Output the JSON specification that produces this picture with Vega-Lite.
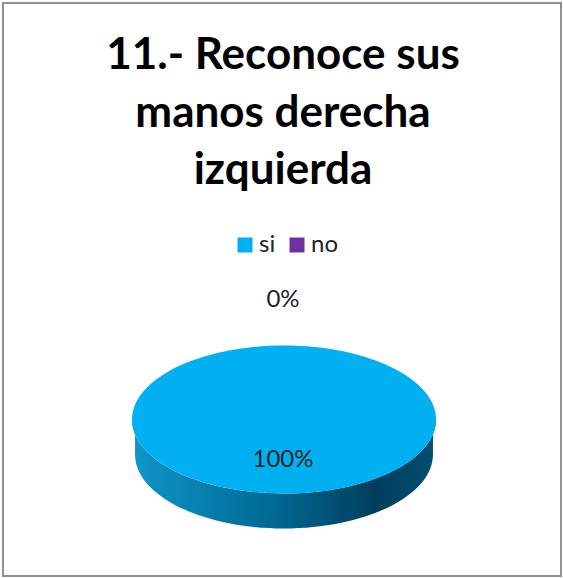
{
  "$schema": "https://vega.github.io/schema/vega-lite/v6.json",
  "width": 558,
  "height": 573,
  "autosize": {"type": "none"},
  "padding": {"left": 3, "top": 3, "right": 2, "bottom": 2},
  "background": "white",
  "view": {"stroke": "#909090", "strokeWidth": 2, "fill": "white"},
  "title": {
    "text": ["11.- Reconoce sus", "manos derecha", "izquierda"],
    "font": "Lato",
    "fontWeight": "bold",
    "fontSize": 44,
    "lineHeight": 57.5,
    "color": "#000000",
    "anchor": "middle",
    "frame": "group",
    "baseline": "top",
    "offset": -190,
    "dx": 1
  },
  "data": {
    "values": [
      {"categoria": "si", "valor": 100, "etiqueta": "100%"},
      {"categoria": "no", "valor": 0, "etiqueta": "0%"}
    ]
  },
  "layer": [
    {
      "mark": {
        "type": "point",
        "filled": true,
        "opacity": 1,
        "strokeWidth": 0,
        "yOffset": 130,
        "xOffset": 2,
        "shape": "M-1,0 A1,0.487 0 0 0 1,0 L0.98,0.08 L0.98,0.23 A0.98,0.487 0 0 1 -0.98,0.23 L-0.98,0.08 Z",
        "fill": {
          "x1": 0, "y1": 0, "x2": 1, "y2": 0,
          "gradient": "linear",
          "stops": [
            {"offset": 0, "color": "#0f97c8"},
            {"offset": 0.45, "color": "#006a96"},
            {"offset": 0.8, "color": "#003f5c"},
            {"offset": 1, "color": "#004f70"}
          ]
        }
      },
      "encoding": {
        "size": {"field": "valor", "type": "quantitative", "scale": {"domain": [0, 100], "range": [0, 92416]}, "legend": null}
      }
    },
    {
      "mark": {
        "type": "point",
        "filled": true,
        "opacity": 1,
        "strokeWidth": 0,
        "yOffset": 130,
        "xOffset": 2,
        "shape": "M-1,0 A1,0.487 0 1 1 1,0 A1,0.487 0 1 1 -1,0 Z"
      },
      "encoding": {
        "size": {"field": "valor", "type": "quantitative", "scale": {"domain": [0, 100], "range": [0, 92416]}, "legend": null},
        "color": {
          "field": "categoria",
          "type": "nominal",
          "scale": {"domain": ["si", "no"], "range": ["#00b0f0", "#7030a0"]},
          "legend": {
            "title": null,
            "orient": "none",
            "legendX": 230,
            "legendY": 230,
            "direction": "horizontal",
            "symbolType": "square",
            "symbolSize": 225,
            "symbolStrokeWidth": 0,
            "labelFont": "Lato",
            "labelFontSize": 24,
            "labelColor": "#222222",
            "columnPadding": 9,
            "labelOffset": 2
          }
        }
      }
    },
    {
      "mark": {"type": "text", "font": "Lato", "fontSize": 24, "color": "#222222", "baseline": "middle", "xOffset": 1},
      "encoding": {
        "text": {"field": "etiqueta", "type": "nominal"},
        "y": {"field": "categoria", "type": "nominal", "scale": {"type": "point", "domain": ["no", "si"], "range": [297, 457], "padding": 0}, "axis": null}
      }
    }
  ]
}
